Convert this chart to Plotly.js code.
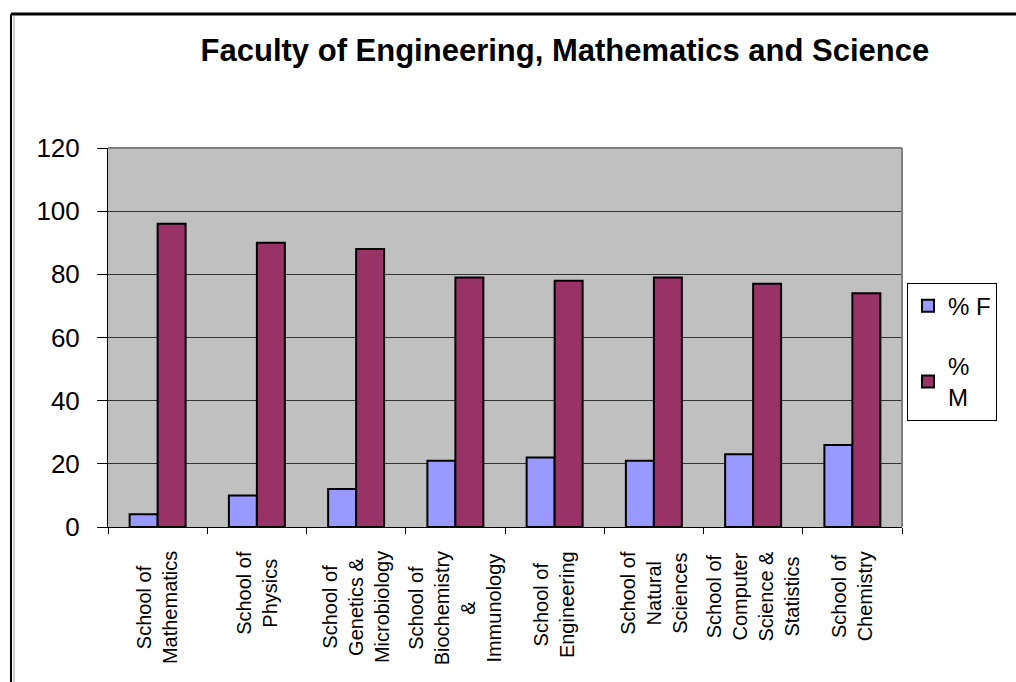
<!DOCTYPE html>
<html>
<head>
<meta charset="utf-8">
<script src="https://cdn.plot.ly/plotly-3.0.1.min.js"></script>
<style>html,body{margin:0;padding:0;background:#fff;}#chart{width:1016px;height:682px;}</style>
</head>
<body>
<div id="chart"></div>
<script>
const categories = ["School of Mathematics","School of Physics","School of Genetics & Microbiology","School of Biochemistry & Immunology","School of Engineering","School of Natural Sciences","School of Computer Science & Statistics","School of Chemistry"];
const tickLabels = ["School of<br>Mathematics","School of<br>Physics","School of<br>Genetics &<br>Microbiology","School of<br>Biochemistry<br>&<br>Immunology","School of<br>Engineering","School of<br>Natural<br>Sciences","School of<br>Computer<br>Science &<br>Statistics","School of<br>Chemistry"];
const pctF = [4,10,12,21,22,21,23,26];
const pctM = [96,90,88,79,78,79,77,74];
const seriesNames = ["% F","%<br>M"];
const yTicks = [0,20,40,60,80,100,120];

const traces = [
  {type:'bar', name:seriesNames[0], x:categories, y:pctF, legendgroup:'f',
   marker:{color:'#9999FF', line:{color:'#000', width:2}}},
  {type:'bar', name:seriesNames[1], x:categories, y:pctM, legendgroup:'m',
   marker:{color:'#993366', line:{color:'#000', width:2}}}
];

const annotations = categories.map((c,i)=>({
  x:c, xref:'x', y:-0.058, yref:'paper', yanchor:'top', xanchor:'center',
  text:tickLabels[i], textangle:-90, showarrow:false, align:'center',
  font:{family:'Arial, Liberation Sans, sans-serif', size:20, color:'#000'}
}));

const layout = {
  width:1016, height:682,
  margin:{l:108, r:114, t:148, b:155},
  paper_bgcolor:'#fff', plot_bgcolor:'#C0C0C0',
  font:{family:'Arial, Liberation Sans, sans-serif', color:'#000'},
  title:{text:'<b>Faculty of Engineering, Mathematics and Science</b>', x:0.556, xanchor:'center', y:0.927, yanchor:'middle',
         font:{size:31, color:'#000', family:'Arial, Liberation Sans, sans-serif'}},
  barmode:'group', bargap:0.436, bargroupgap:0,
  showlegend:true,
  legend:{x:1.0063, xanchor:'left', y:0.645, yanchor:'top', bgcolor:'#fff', bordercolor:'#000', borderwidth:1,
          font:{size:24, color:'#000'}, traceorder:'grouped', tracegroupgap:26, itemwidth:30},
  xaxis:{type:'category', showticklabels:false, ticks:'outside', tickson:'boundaries', ticklen:6, tickcolor:'#000',
         showline:true, linecolor:'#000', linewidth:1, showgrid:false, zeroline:false, fixedrange:true},
  yaxis:{range:[0,120], tickvals:yTicks, ticks:'outside', ticklen:10, tickcolor:'#000', showline:true, linecolor:'#000', linewidth:1,
         gridcolor:'#333', gridwidth:1, zeroline:false, tickfont:{size:26}, ticklabelstandoff:12},
  annotations:annotations,
  shapes:[
    {type:'line', xref:'paper', yref:'paper', x0:0, x1:1, y0:1, y1:1, line:{color:'#808080', width:2}},
    {type:'line', xref:'paper', yref:'paper', x0:1, x1:1, y0:0, y1:1, line:{color:'#808080', width:2}},
    {type:'line', xref:'paper', yref:'paper', x0:-0.1222, x1:1.2, y0:1.3536, y1:1.3536, line:{color:'#000', width:3}},
    {type:'line', xref:'paper', yref:'paper', x0:-0.1222, x1:-0.1222, y0:-0.5, y1:1.3536, line:{color:'#000', width:2}},
    {type:'line', xref:'paper', yref:'paper', x0:-0.1184, x1:-0.1184, y0:-0.5, y1:1.348, line:{color:'#999', width:1}}
  ]
};

Plotly.newPlot('chart', traces, layout, {displayModeBar:false, staticPlot:true});
</script>
</body>
</html>
